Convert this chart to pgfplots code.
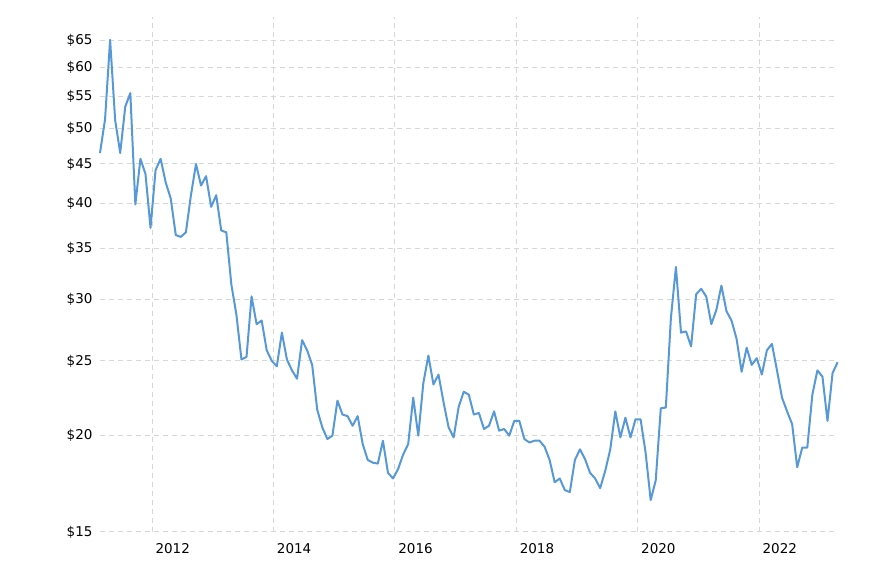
\documentclass[border=0pt]{standalone}
\usepackage{fontspec}
\setmainfont{DejaVu Sans}
\usepackage{pgfplots}
\pgfplotsset{compat=1.18}

\definecolor{lineblue}{RGB}{86,153,214}
\definecolor{gridgray}{RGB}{215,215,215}

\begin{document}
\begin{tikzpicture}
\path (0pt,0pt) rectangle (888pt,560pt);
\begin{axis}[
  at={(100pt,28pt)}, anchor=south west,
  scale only axis, width=737.6pt, height=515pt,
  xmin=0, xmax=146,
  ymode=log, ymin=15, ymax=69.8,
  axis line style={draw=none},
  tick style={draw=none},
  xtick={10.3,34.33,58.36,82.39,106.42,130.45},
  xticklabels={2012,2014,2016,2018,2020,2022},
  ytick={15,20,25,30,35,40,45,50,55,60,65},
  yticklabels={\$15,\$20,\$25,\$30,\$35,\$40,\$45,\$50,\$55,\$60,\$65},
  xmajorgrids, ymajorgrids,
  grid style={gridgray, line width=1pt, dash pattern=on 5pt off 4pt},
  ticklabel style={font=\fontsize{13.5}{15}\selectfont, text=black},
  xticklabel style={anchor=west, yshift=-17pt},
  yticklabel style={anchor=east, xshift=-4pt},
  clip=false,
]
\addplot[lineblue, line width=2pt, line join=round] coordinates {
(0,46.5) (1,51.4) (2,65.2) (3,51.3) (4,46.5) (5,53.4) (6,55.6) (7,39.9) (8,45.7) (9,43.7)
(10,37.2) (11,44.2) (12,45.7) (13,42.6) (14,40.6) (15,36.4) (16,36.2) (17,36.7) (18,41.0) (19,45.0)
(20,42.2) (21,43.4) (22,39.6) (23,41.0) (24,36.9) (25,36.7) (26,31.4) (27,28.7) (28,25.1) (29,25.3)
(30,30.3) (31,27.9) (32,28.2) (33,25.8) (34,25.0) (35,24.6) (36,27.2) (37,25.1) (38,24.3) (39,23.7)
(40,26.6) (41,25.8) (42,24.7) (43,21.6) (44,20.5) (45,19.8) (46,20.0) (47,22.2) (48,21.3) (49,21.2)
(50,20.6) (51,21.2) (52,19.5) (53,18.6) (54,18.45) (55,18.4) (56,19.7) (57,17.9) (58,17.6) (59,18.1)
(60,18.9) (61,19.5) (62,22.4) (63,20.0) (64,23.4) (65,25.4) (66,23.3) (67,24.0) (68,22.1) (69,20.5)
(70,19.9) (71,21.8) (72,22.8) (73,22.6) (74,21.3) (75,21.4) (76,20.4) (77,20.6) (78,21.5) (79,20.3)
(80,20.4) (81,20.0) (82,20.9) (83,20.9) (84,19.8) (85,19.6) (86,19.7) (87,19.7) (88,19.35) (89,18.6)
(90,17.4) (91,17.6) (92,17.0) (93,16.9) (94,18.6) (95,19.2) (96,18.65) (97,17.9) (98,17.6) (99,17.1)
(100,18.0) (101,19.2) (102,21.5) (103,19.9) (104,21.1) (105,19.9) (106,21.0) (107,21.0) (108,19.0) (109,16.5)
(110,17.5) (111,21.7) (112,21.75) (113,28.4) (114,33.1) (115,27.2) (116,27.3) (117,26.1) (118,30.5) (119,31.0)
(120,30.3) (121,27.9) (122,29.1) (123,31.3) (124,29.0) (125,28.2) (126,26.7) (127,24.2) (128,26.0) (129,24.7)
(130,25.2) (131,24.0) (132,25.8) (133,26.3) (134,24.3) (135,22.4) (136,21.5) (137,20.7) (138,18.2) (139,19.3)
(140,19.3) (141,22.6) (142,24.3) (143,23.85) (144,20.9) (145,24.1) (146,24.9)
};
\end{axis}
\end{tikzpicture}
\end{document}
